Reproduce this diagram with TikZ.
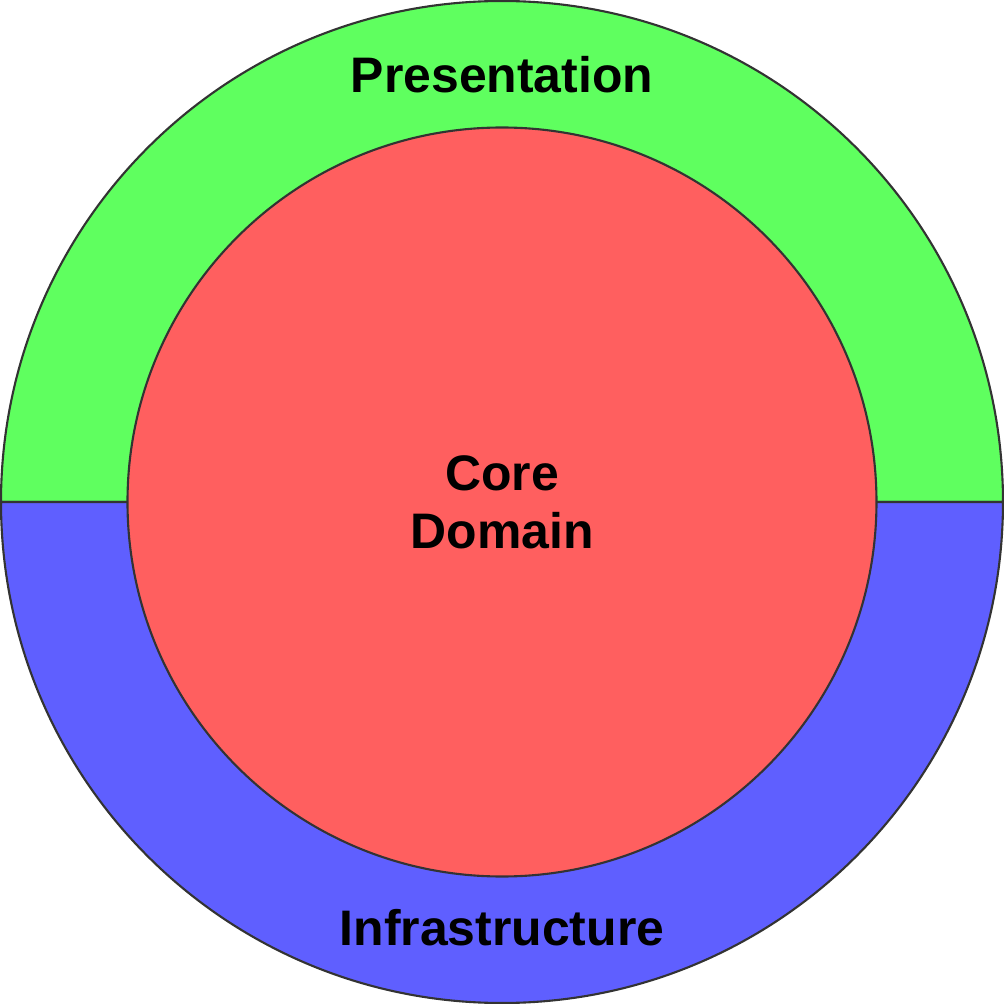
\documentclass[tikz,border=0pt]{standalone}
\usepackage{fontspec}
\setmainfont{Liberation Sans}
\definecolor{layergreen}{HTML}{5FFF5F}
\definecolor{layerblue}{HTML}{5F5FFF}
\definecolor{corered}{HTML}{FF5F5F}
\begin{document}
\begin{tikzpicture}[
  edge/.style={draw=black!80, line width=0.6pt},
  ringtext/.style={font=\fontsize{14.2}{17}\selectfont\bfseries, align=center},
  core/.style={circle, edge, fill=corered, minimum size=7.49cm, inner sep=0pt,
               font=\fontsize{14.2}{16.5}\selectfont\bfseries, align=center}
]
\useasboundingbox (-5.02,-5.02) rectangle (5.02,5.02);

% Outer ring halves
\filldraw[edge, fill=layergreen] (5.01,0) arc (0:180:5.01) -- cycle;
\filldraw[edge, fill=layerblue] (-5.01,0) arc (180:360:5.01) -- cycle;

% Core circle
\node[core] (domain) at (0,0) {Core\\Domain};

% Layer labels
\node[ringtext] (presentation) at (0,4.27) {Presentation};
\node[ringtext] (infra) at (0,-4.26) {Infrastructure};

\end{tikzpicture}
\end{document}
